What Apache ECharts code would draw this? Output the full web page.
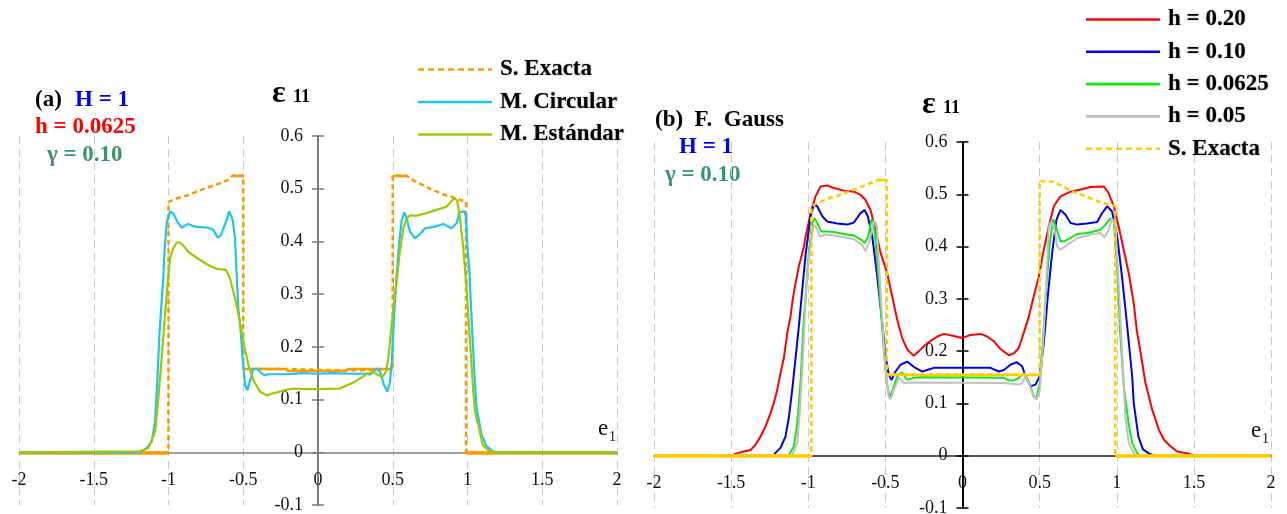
<!DOCTYPE html>
<html>
<head>
<meta charset="utf-8">
<script src="https://cdn.jsdelivr.net/npm/echarts@6/dist/echarts.min.js"></script>
<style>
  html, body { margin: 0; padding: 0; background: #ffffff; }
  #chart { width: 1287px; height: 514px; }
</style>
</head>
<body>
<div id="chart"></div>
<script>
// ---- axis ranges / ticks ----
const xTicks = { min: -2, max: 2, step: 0.5 };
const yTicks = { min: -0.1, max: 0.6, step: 0.1 };

// ---- panel (a): exact solution (x / y vertices) ----
const exactA_X = [-2, -1, -1, -0.95, -0.9, -0.85, -0.8, -0.75, -0.7, -0.65, -0.6, -0.57, -0.5, -0.5, -0.21, -0.21, 0.19, 0.19, 0.5, 0.5, 0.59, 0.65, 0.7, 0.75, 0.8, 0.85, 0.9, 0.95, 0.99, 0.99, 2];
const exactA_Y = [0, 0, 0.475, 0.481, 0.485, 0.49, 0.496, 0.501, 0.506, 0.511, 0.517, 0.525, 0.525, 0.158, 0.158, 0.155, 0.155, 0.158, 0.158, 0.525, 0.525, 0.514, 0.507, 0.5, 0.494, 0.488, 0.484, 0.479, 0.476, 0, 0];

// ---- panel (a): M. Circular ----
const circularA = [[-2,0],[-1.19,0],[-1.146,0.008],[-1.112,0.02],[-1.09,0.058],[-1.075,0.134],[-1.061,0.222],[-1.046,0.286],[-1.035,0.33],[-1.025,0.39],[-1.01,0.44],[-0.99,0.457],[-0.968,0.453],[-0.94,0.437],[-0.912,0.426],[-0.89,0.43],[-0.867,0.433],[-0.823,0.428],[-0.78,0.427],[-0.734,0.426],[-0.70,0.422],[-0.671,0.407],[-0.649,0.412],[-0.615,0.438],[-0.593,0.457],[-0.571,0.441],[-0.555,0.406],[-0.544,0.336],[-0.533,0.273],[-0.517,0.229],[-0.504,0.178],[-0.488,0.128],[-0.473,0.118],[-0.45,0.14],[-0.433,0.158],[-0.41,0.159],[-0.377,0.15],[-0.355,0.146],[-0.333,0.148],[-0.2,0.148],[-0.1,0.15],[0,0.149],[0.1,0.15],[0.2,0.149],[0.326,0.149],[0.348,0.147],[0.37,0.153],[0.397,0.159],[0.415,0.153],[0.441,0.128],[0.464,0.115],[0.482,0.134],[0.495,0.178],[0.508,0.254],[0.526,0.336],[0.544,0.40],[0.56,0.441],[0.577,0.455],[0.593,0.444],[0.615,0.419],[0.649,0.406],[0.682,0.414],[0.716,0.425],[0.783,0.428],[0.838,0.433],[0.894,0.425],[0.928,0.435],[0.945,0.455],[0.977,0.457],[0.988,0.45],[0.999,0.39],[1.012,0.349],[1.021,0.292],[1.035,0.21],[1.048,0.14],[1.061,0.083],[1.095,0.033],[1.128,0.011],[1.17,0.002],[1.2,0],[2,0]];

// ---- panel (a): M. Estándar ----
const estandarA = [[-2,0],[-1.19,0.002],[-1.135,0.008],[-1.09,0.039],[-1.068,0.102],[-1.046,0.178],[-1.023,0.26],[-1.001,0.336],[-0.99,0.368],[-0.968,0.387],[-0.945,0.398],[-0.923,0.398],[-0.901,0.392],[-0.867,0.38],[-0.811,0.369],[-0.756,0.359],[-0.711,0.352],[-0.678,0.348],[-0.615,0.346],[-0.589,0.33],[-0.555,0.292],[-0.522,0.248],[-0.495,0.204],[-0.466,0.166],[-0.433,0.137],[-0.388,0.115],[-0.343,0.108],[-0.299,0.112],[-0.232,0.117],[-0.165,0.121],[-0.098,0.12],[0,0.12],[0.147,0.121],[0.203,0.128],[0.247,0.134],[0.303,0.144],[0.336,0.15],[0.37,0.152],[0.403,0.146],[0.433,0.144],[0.455,0.153],[0.47,0.178],[0.486,0.223],[0.504,0.273],[0.526,0.324],[0.548,0.381],[0.571,0.425],[0.593,0.444],[0.615,0.449],[0.66,0.449],[0.716,0.453],[0.771,0.458],[0.827,0.463],[0.861,0.466],[0.894,0.477],[0.916,0.482],[0.932,0.476],[0.95,0.444],[0.972,0.387],[0.995,0.305],[1.017,0.21],[1.035,0.13],[1.05,0.077],[1.072,0.052],[1.102,0.014],[1.139,0.004],[1.18,0],[2,0]];

// ---- panel (b): F. Gauss, several h ----
const gaussH020 = [[-2,0],[-1.5,0],[-1.471,0.004],[-1.417,0.008],[-1.374,0.011],[-1.342,0.021],[-1.309,0.037],[-1.277,0.056],[-1.244,0.082],[-1.223,0.101],[-1.201,0.126],[-1.18,0.158],[-1.158,0.187],[-1.136,0.235],[-1.115,0.266],[-1.1,0.3],[-1.082,0.33],[-1.061,0.362],[-1.05,0.375],[-1.028,0.40],[-1.017,0.419],[-0.985,0.464],[-0.953,0.496],[-0.92,0.515],[-0.877,0.517],[-0.834,0.512],[-0.769,0.507],[-0.704,0.505],[-0.661,0.499],[-0.629,0.489],[-0.596,0.47],[-0.564,0.432],[-0.531,0.388],[-0.488,0.349],[-0.456,0.305],[-0.423,0.26],[-0.391,0.225],[-0.358,0.203],[-0.316,0.191],[-0.283,0.2],[-0.229,0.215],[-0.164,0.228],[-0.121,0.233],[-0.056,0.229],[-0.002,0.225],[0.052,0.231],[0.117,0.233],[0.16,0.228],[0.203,0.219],[0.246,0.204],[0.30,0.192],[0.333,0.196],[0.365,0.206],[0.397,0.235],[0.43,0.266],[0.462,0.305],[0.495,0.343],[0.523,0.388],[0.559,0.438],[0.592,0.477],[0.635,0.496],[0.70,0.505],[0.765,0.509],[0.83,0.514],[0.916,0.515],[0.948,0.502],[0.981,0.477],[1.013,0.438],[1.045,0.394],[1.078,0.349],[1.11,0.292],[1.13,0.24],[1.155,0.196],[1.186,0.139],[1.23,0.088],[1.273,0.05],[1.305,0.031],[1.348,0.018],[1.392,0.008],[1.467,0.004],[1.5,0],[2,0]];
const gaussH010 = [[-2,0],[-1.223,0.002],[-1.18,0.015],[-1.147,0.037],[-1.125,0.075],[-1.104,0.126],[-1.082,0.187],[-1.061,0.247],[-1.039,0.317],[-1.017,0.385],[-0.985,0.458],[-0.963,0.48],[-0.942,0.477],[-0.909,0.458],[-0.877,0.448],[-0.812,0.444],[-0.747,0.442],[-0.704,0.446],[-0.661,0.464],[-0.635,0.47],[-0.614,0.458],[-0.585,0.419],[-0.553,0.343],[-0.52,0.254],[-0.499,0.19],[-0.478,0.155],[-0.46,0.145],[-0.434,0.161],[-0.402,0.174],[-0.358,0.18],[-0.316,0.17],[-0.261,0.161],[-0.229,0.164],[-0.186,0.168],[0.181,0.168],[0.235,0.161],[0.268,0.164],[0.311,0.174],[0.35,0.179],[0.387,0.171],[0.408,0.152],[0.441,0.133],[0.473,0.136],[0.501,0.152],[0.527,0.215],[0.553,0.305],[0.581,0.388],[0.609,0.451],[0.635,0.47],[0.668,0.461],[0.70,0.445],[0.743,0.442],[0.808,0.444],[0.873,0.447],[0.905,0.464],[0.938,0.477],[0.97,0.467],[1.003,0.419],[1.035,0.34],[1.067,0.25],[1.1,0.152],[1.11,0.101],[1.14,0.037],[1.17,0.012],[1.21,0.004],[1.25,0],[2,0]];
const gaussH00625 = [[-2,0],[-1.125,0.002],[-1.093,0.018],[-1.071,0.063],[-1.05,0.14],[-1.028,0.266],[-1.017,0.3],[-1.005,0.36],[-0.996,0.388],[-0.974,0.445],[-0.957,0.454],[-0.937,0.442],[-0.916,0.429],[-0.877,0.429],[-0.834,0.428],[-0.769,0.424],[-0.704,0.421],[-0.661,0.414],[-0.633,0.407],[-0.611,0.419],[-0.59,0.452],[-0.575,0.445],[-0.553,0.375],[-0.52,0.241],[-0.499,0.164],[-0.484,0.126],[-0.467,0.113],[-0.445,0.132],[-0.423,0.152],[-0.391,0.159],[-0.358,0.145],[-0.316,0.149],[-0.272,0.15],[0.268,0.149],[0.30,0.144],[0.333,0.144],[0.365,0.149],[0.397,0.158],[0.419,0.149],[0.441,0.133],[0.462,0.113],[0.48,0.11],[0.501,0.139],[0.523,0.228],[0.544,0.324],[0.566,0.407],[0.588,0.452],[0.609,0.435],[0.635,0.41],[0.657,0.41],[0.70,0.416],[0.743,0.424],[0.808,0.426],[0.851,0.429],[0.894,0.432],[0.927,0.442],[0.959,0.454],[0.981,0.448],[1.003,0.356],[1.024,0.228],[1.046,0.132],[1.078,0.06],[1.1,0.024],[1.132,0.005],[1.15,0],[2,0]];
const gaussH005 = [[-2,0],[-1.104,0.002],[-1.071,0.024],[-1.054,0.088],[-1.032,0.203],[-1.015,0.317],[-0.995,0.38],[-0.974,0.426],[-0.963,0.442],[-0.946,0.435],[-0.924,0.419],[-0.888,0.423],[-0.834,0.421],[-0.769,0.418],[-0.704,0.414],[-0.65,0.403],[-0.629,0.391],[-0.607,0.407],[-0.575,0.448],[-0.557,0.445],[-0.542,0.368],[-0.52,0.26],[-0.499,0.164],[-0.478,0.113],[-0.467,0.108],[-0.445,0.126],[-0.413,0.149],[-0.38,0.139],[-0.337,0.14],[0.268,0.139],[0.365,0.136],[0.387,0.139],[0.408,0.152],[0.43,0.139],[0.452,0.12],[0.48,0.107],[0.501,0.126],[0.523,0.215],[0.544,0.337],[0.559,0.438],[0.575,0.448],[0.596,0.435],[0.614,0.40],[0.635,0.394],[0.679,0.403],[0.743,0.416],[0.83,0.423],[0.894,0.426],[0.92,0.418],[0.948,0.432],[0.97,0.454],[0.992,0.438],[1.013,0.324],[1.035,0.196],[1.056,0.075],[1.078,0.024],[1.11,0.005],[1.13,0],[2,0]];

// ---- panel (b): exact solution (x / y vertices) ----
const exactB_X = [-2, -0.98, -0.98, -0.95, -0.9, -0.85, -0.8, -0.75, -0.7, -0.65, -0.6, -0.55, -0.49, -0.49, 0.5, 0.5, 0.59, 0.65, 0.7, 0.75, 0.8, 0.85, 0.9, 0.95, 0.99, 0.99, 2];
const exactB_Y = [0, 0, 0.476, 0.482, 0.488, 0.494, 0.498, 0.504, 0.509, 0.515, 0.521, 0.527, 0.527, 0.155, 0.155, 0.525, 0.524, 0.515, 0.507, 0.501, 0.496, 0.49, 0.484, 0.48, 0.478, 0, 0];

// ---- legend entries ----
const legendA = ['S. Exacta', 'M. Circular', 'M. Estándar'];
const legendB = ['h = 0.20', 'h = 0.10', 'h = 0.0625', 'h = 0.05', 'S. Exacta (b)'];

// ---- colours ----
const colors = {
  exactA: '#FF9900', circular: '#1CC6F2', estandar: '#99CC00',
  h020: '#FF0000', h010: '#0000F0', h00625: '#10E810', h005: '#C0C0C0', exactB: '#FFCC00'
};

const SERIF = '"Liberation Serif", "Times New Roman", serif';
const W = 1287, H = 514;

// two plotting panels
const gridA = { left: 19, right: 670, top: 136, bottom: 9 };
const gridB = { left: 654, right: 16, top: 142, bottom: 6 };

function zip(xs, ys) { return xs.map((x, i) => [x, ys[i]]); }

// flat runs of a piecewise exact profile, drawn as solid strokes over the dashed profile
function flatRuns(xs, ys) {
  const out = [];
  for (let i = 0; i < xs.length - 1; i++) {
    if (ys[i] === ys[i + 1] && xs[i] !== xs[i + 1]) {
      out.push({ coords: [[xs[i], ys[i]], [xs[i + 1], ys[i + 1]]],
                 lineStyle: { width: ys[i] === 0 ? 3.6 : 2.4 } });
    }
  }
  return out;
}

function curve(name, data, color, panel, width, z, dashed) {
  return {
    type: 'line', name, data,
    xAxisIndex: panel, yAxisIndex: panel * 2,
    symbol: 'none', showSymbol: false, smooth: false,
    lineStyle: { color, width, type: dashed ? [5, 3.5] : 'solid' },
    itemStyle: { color },
    z, silent: true, animation: false
  };
}

function flatSeries(xs, ys, color, panel, z) {
  return {
    type: 'lines', coordinateSystem: 'cartesian2d',
    xAxisIndex: panel, yAxisIndex: panel * 2,
    polyline: false, data: flatRuns(xs, ys),
    lineStyle: { color, width: 2.4, opacity: 1, curveness: 0, type: 'solid' },
    z, silent: true, animation: false
  };
}

const fmt = v => String(Math.round(v * 10) / 10);

// pixel position of the data origin inside a grid, used to place the axes through (0, 0)
function originOf(g) {
  const w = W - g.left - g.right, h = H - g.top - g.bottom;
  return {
    x: g.left + (0 - xTicks.min) / (xTicks.max - xTicks.min) * w,
    y: g.top + (yTicks.max - 0) / (yTicks.max - yTicks.min) * h,
    right: g.left + w, bottom: g.top + h
  };
}

function xAxisDef(gridIndex, g, lineColor) {
  const o = originOf(g);
  return {
    type: 'value', gridIndex, min: xTicks.min, max: xTicks.max, interval: xTicks.step,
    position: 'bottom', offset: -(o.bottom - o.y),
    axisLine: { show: true, onZero: false, lineStyle: { color: lineColor, width: 1.5 } },
    axisTick: { show: false },
    axisLabel: { show: true, formatter: fmt, margin: 19, color: '#111',
                 fontFamily: SERIF, fontSize: 18, showMinLabel: true, showMaxLabel: true },
    splitLine: { show: true, lineStyle: { color: '#C8C8C8', width: 1, type: [8, 5] } }
  };
}

function yAxisDefs(gridIndex, g, lineColor) {
  const o = originOf(g);
  const base = {
    type: 'value', gridIndex, min: yTicks.min, max: yTicks.max, interval: yTicks.step,
    splitLine: { show: false }
  };
  return [
    Object.assign({}, base, {
      position: 'left', offset: -(o.x - g.left),
      axisLine: { show: true, onZero: false, lineStyle: { color: lineColor, width: 2 } },
      axisTick: { show: true, inside: false, length: 6, lineStyle: { color: lineColor, width: 1.5 } },
      axisLabel: { show: true, formatter: fmt, margin: 15, color: '#111',
                   fontFamily: SERIF, fontSize: 18, showMinLabel: true, showMaxLabel: true }
    }),
    Object.assign({}, base, {
      position: 'right', offset: -(o.right - o.x),
      axisLine: { show: true, onZero: false, lineStyle: { color: lineColor, width: 2 } },
      axisTick: { show: true, inside: false, length: 6, lineStyle: { color: lineColor, width: 1.5 } },
      axisLabel: { show: false }
    })
  ];
}

// legend swatches: a solid bar, or a row of dashes for the exact solution
const SW = 74, SH = 2.6;
function dashIcon() {
  let d = 'path://';
  for (let x = 0; x < SW; x += 10) {
    const w = Math.min(6, SW - x);
    d += `M${x},0h${w}v${SH}h-${w}z`;
  }
  return d;
}

const legendText = {
  fontFamily: SERIF, fontWeight: 'bold', fontSize: 23, color: '#000',
  textShadowColor: 'rgba(0,0,0,0.35)', textShadowBlur: 2, padding: [0, 0, 0, 3]
};

function legendItems(names, dashedName) {
  return names.map(n => ({ name: n, icon: n === dashedName ? dashIcon() : 'rect' }));
}

function txt(x, y, text, color, size, weight) {
  return { type: 'text', x, y, silent: true,
    style: { text, fill: color, font: `${weight || 'bold'} ${size}px ${SERIF}`, verticalAlign: 'middle' } };
}

const option = {
  backgroundColor: '#ffffff',
  animation: false,
  grid: [
    Object.assign({ containLabel: false, outerBoundsMode: 'none' }, gridA),
    Object.assign({ containLabel: false, outerBoundsMode: 'none' }, gridB)
  ],
  xAxis: [xAxisDef(0, gridA, '#808080'), xAxisDef(1, gridB, '#222222')],
  yAxis: [].concat(yAxisDefs(0, gridA, '#7A7A7A'), yAxisDefs(1, gridB, '#000000')),
  legend: [
    { data: legendItems(legendA, 'S. Exacta'), orient: 'vertical', left: 418, top: 58,
      itemWidth: SW, itemHeight: SH, itemGap: 9.5, selectedMode: false, symbolKeepAspect: false,
      textStyle: legendText, padding: 0 },
    { data: legendItems(legendB, 'S. Exacta (b)'), orient: 'vertical', left: 1086, top: 8,
      itemWidth: SW, itemHeight: SH, itemGap: 9.3, selectedMode: false, symbolKeepAspect: false,
      textStyle: legendText, padding: 0,
      formatter: n => n.replace(' (b)', '') }
  ],
  graphic: [
    // panel (a) annotations
    txt(35, 100, '(a)', '#000', 23),
    txt(75, 100, 'H = 1', '#0000FF', 23),
    txt(35, 127, 'h = 0.0625', '#FF0000', 23),
    txt(47, 155, 'γ = 0.10', '#339966', 23),
    txt(272, 94, 'ε', '#000', 32),
    txt(293, 97, '11', '#000', 18),
    txt(598, 429, 'e', '#111', 23, 'normal'),
    txt(609, 437, '1', '#111', 14, 'normal'),
    // panel (b) annotations
    txt(655, 120, '(b)  F.  Gauss', '#000', 23),
    txt(679, 147, 'H = 1', '#0000FF', 23),
    txt(665, 175, 'γ = 0.10', '#339966', 23),
    txt(922, 105, 'ε', '#000', 32),
    txt(943, 108, '11', '#000', 18),
    txt(1251, 431, 'e', '#111', 23, 'normal'),
    txt(1262, 439, '1', '#111', 14, 'normal')
  ],
  series: [
    // panel (a)
    curve('S. Exacta', zip(exactA_X, exactA_Y), colors.exactA, 0, 2.6, 3, true),
    flatSeries(exactA_X, exactA_Y, colors.exactA, 0, 3),
    curve('M. Circular', circularA, colors.circular, 0, 2.2, 4, false),
    curve('M. Estándar', estandarA, colors.estandar, 0, 2.2, 5, false),
    // panel (b)
    curve('h = 0.20', gaussH020, colors.h020, 1, 2, 3, false),
    curve('h = 0.10', gaussH010, colors.h010, 1, 2, 4, false),
    curve('h = 0.0625', gaussH00625, colors.h00625, 1, 2, 5, false),
    curve('h = 0.05', gaussH005, colors.h005, 1, 2, 6, false),
    curve('S. Exacta (b)', zip(exactB_X, exactB_Y), colors.exactB, 1, 2.6, 7, true),
    flatSeries(exactB_X, exactB_Y, colors.exactB, 1, 7)
  ]
};

const chart = echarts.init(document.getElementById('chart'), null, { renderer: 'canvas' });
chart.setOption(option);
</script>
</body>
</html>
